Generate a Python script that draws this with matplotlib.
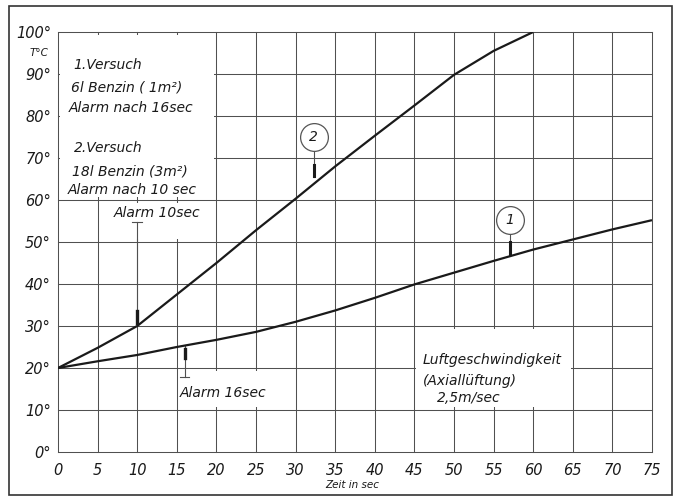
import matplotlib

matplotlib.use("Agg")
import matplotlib.pyplot as plt
from matplotlib.patches import Rectangle

plt.rcParams["font.family"] = ["DejaVu Sans"]
plt.rcParams["font.style"] = "italic"

zeit = [0, 5, 10, 15, 20, 25, 30, 35, 40, 45, 50, 55, 60, 65, 70, 75]
versuch1 = [20, 21.6, 23.1, 25.0, 26.7, 28.6, 31.0, 33.7, 36.7, 39.9, 42.7, 45.5, 48.2, 50.6, 53.0, 55.2]
zeit2 = [0, 5, 10, 15, 20, 25, 30, 35, 40, 45, 50, 55, 60]
versuch2 = [20, 24.8, 30.0, 37.5, 45.0, 52.8, 60.3, 68.0, 75.3, 82.5, 89.8, 95.5, 100]

x_ticks = list(range(0, 80, 5))
y_ticks = list(range(0, 110, 10))
y_labels = [f"{v}°" for v in y_ticks]

legend_lines = [
    (1.9, 92.1, "1.Versuch"),
    (1.7, 86.9, "6l Benzin ( 1m²)"),
    (1.4, 82.0, "Alarm nach 16sec"),
    (2.0, 72.4, "2.Versuch"),
    (1.8, 66.8, "18l Benzin (3m²)"),
    (1.2, 62.4, "Alarm nach 10 sec"),
]
luft_lines = [
    (46.0, 21.9, "Luftgeschwindigkeit"),
    (46.1, 16.8, "(Axiallüftung)"),
    (47.9, 12.9, "2,5m/sec"),
]

INK = "#1a1a1a"
GRID = "#505050"
FS = 10

fig = plt.figure(figsize=(6.74, 4.97), dpi=100)
ax = fig.add_axes([58 / 674, 1 - 452 / 497, 594 / 674, 420 / 497])
ax.set_xlim(0, 75)
ax.set_ylim(0, 100)
for spine in ax.spines.values():
    spine.set_visible(False)

for x in x_ticks:
    ax.axvline(x, color=GRID, linewidth=0.75, zorder=1, clip_on=False)
for y in y_ticks:
    ax.axhline(y, color=GRID, linewidth=0.75, zorder=1, clip_on=False)

# white label fields that interrupt the grid
for x0, y0, x1, y1 in [(0, 60, 20, 100), (5, 50, 20, 60), (15, 10, 30, 20), (45, 10, 65, 30)]:
    ax.add_patch(Rectangle((x0 + 0.25, y0 + 0.6), x1 - x0 - 0.5, y1 - y0 - 1.2,
                           facecolor="white", edgecolor="none", zorder=2))

ax.plot(zeit, versuch1, color=INK, linewidth=1.6, zorder=4, solid_capstyle="butt")
ax.plot(zeit2, versuch2, color=INK, linewidth=1.6, zorder=4, solid_capstyle="butt")

# alarm markers
ax.plot([10, 10], [54.8, 30.4], color=GRID, linewidth=0.8, zorder=3)
ax.plot([9.4, 10.6], [54.8, 54.8], color=GRID, linewidth=0.8, zorder=3)
ax.plot([10, 10], [33.6, 30.6], color=INK, linewidth=2.4, zorder=3)
ax.text(7.0, 56.9, "Alarm 10sec", fontsize=FS, va="center", ha="left", color=INK, zorder=5)

ax.plot([16, 16], [17.9, 25.3], color=GRID, linewidth=0.8, zorder=3)
ax.plot([15.4, 16.6], [17.9, 17.9], color=GRID, linewidth=0.8, zorder=3)
ax.plot([16, 16], [22.4, 24.6], color=INK, linewidth=2.4, zorder=3)
ax.text(15.4, 14.0, "Alarm 16sec", fontsize=FS, va="center", ha="left", color=INK, zorder=5)

# curve numbers
for cx, cy, tip, label in [(32.3, 75.0, 65.4, "2"), (57.1, 55.2, 47.0, "1")]:
    ax.plot([cx, cx], [cy - 3.3, tip], color=GRID, linewidth=0.8, zorder=3)
    ax.plot([cx, cx], [tip + 3.0, tip + 0.2], color=INK, linewidth=2.2, zorder=3)
    ax.plot([cx], [cy], marker="o", markersize=20, markerfacecolor="white",
            markeredgecolor="#555555", markeredgewidth=0.9, zorder=5)
    ax.text(cx, cy, label, fontsize=FS, ha="center", va="center", color=INK, zorder=6)

for x, y, s in legend_lines + luft_lines:
    ax.text(x, y, s, fontsize=FS, ha="left", va="center", color=INK, zorder=5)

ax.set_xticks(x_ticks)
ax.set_yticks(y_ticks)
ax.set_yticklabels(y_labels)
ax.tick_params(length=0, labelsize=10.5, colors=INK, pad=5)
ax.tick_params(axis="x", pad=8)
ax.text(-1.2, 95.0, "T°C", fontsize=7.5, ha="right", va="center", color=INK)
fig.text(352 / 674, 1 - 485 / 497, "Zeit in sec", fontsize=7.5, ha="center", va="center", color=INK)

fig.add_artist(Rectangle((9 / 674, 2 / 497), 663 / 674, 489 / 497, transform=fig.transFigure,
                         facecolor="none", edgecolor="#333333", linewidth=1.2))

fig.savefig("out.png", dpi=100)
